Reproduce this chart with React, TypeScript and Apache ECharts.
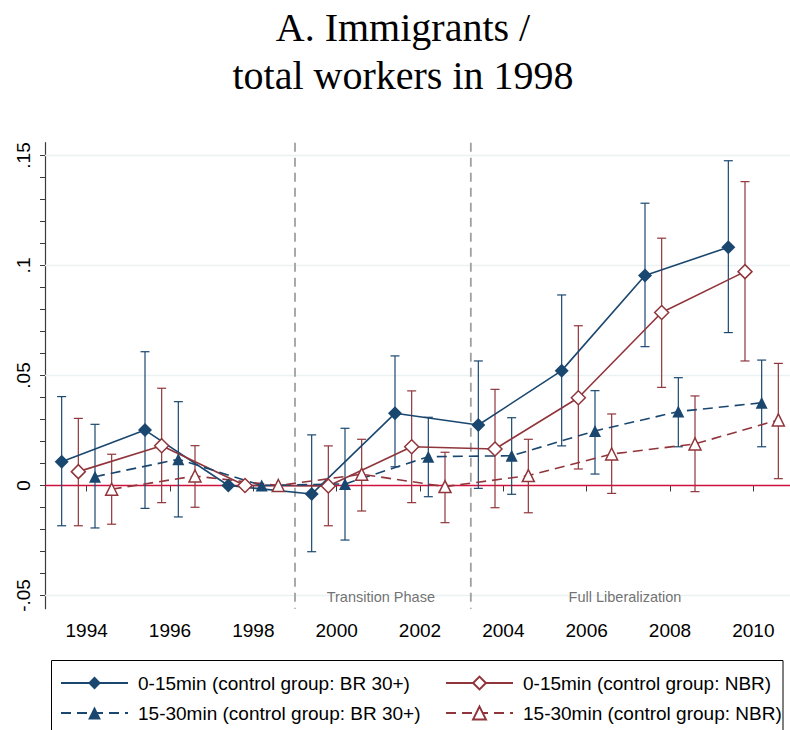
import React, { useEffect, useRef } from "react";
import * as echarts from "echarts";

// ---------- data ----------
const years = [1994, 1996, 1998, 2000, 2002, 2004, 2006, 2008, 2010];
const seriesNames = [
  "0-15min (control group: BR 30+)",
  "0-15min (control group: NBR)",
  "15-30min (control group: BR 30+)",
  "15-30min (control group: NBR)",
];
const xOffsets = [-0.6, -0.2, 0.2, 0.6];

const near_BR_coef = [0.0108, 0.0252, 0, -0.0039, 0.0328, 0.0275, 0.0522, 0.0954, 0.1083];
const near_BR_lo = [-0.0183, -0.0104, null, -0.0301, 0.0085, -0.0013, 0.018, 0.0631, 0.0695];
const near_BR_hi = [0.0404, 0.0608, null, 0.023, 0.0589, 0.0566, 0.0866, 0.1283, 0.1476];

const near_NBR_coef = [0.0063, 0.0181, 0, -0.0002, 0.0176, 0.0166, 0.0399, 0.0786, 0.0972];
const near_NBR_lo = [-0.0183, -0.0078, null, -0.0183, -0.0078, -0.0101, 0.0075, 0.0446, 0.0566];
const near_NBR_hi = [0.0305, 0.0442, null, 0.018, 0.043, 0.0437, 0.0726, 0.1124, 0.1381];

const mid_BR_coef = [0.004, 0.0119, 0, 0.0007, 0.0131, 0.0135, 0.0248, 0.0336, 0.0376];
const mid_BR_lo = [-0.0193, -0.0143, null, -0.0248, -0.0051, -0.004, 0.0052, 0.0176, 0.0176];
const mid_BR_hi = [0.0278, 0.0381, null, 0.026, 0.031, 0.0308, 0.0431, 0.049, 0.057];

const mid_NBR_coef = [-0.0017, 0.0043, 0, 0.0051, -0.0005, 0.0045, 0.0143, 0.0189, 0.0298];
const mid_NBR_lo = [-0.0176, -0.0099, null, -0.0116, -0.0169, -0.0124, -0.0036, -0.0028, 0.0031];
const mid_NBR_hi = [0.0142, 0.0181, null, 0.021, 0.0151, 0.021, 0.0325, 0.0407, 0.0555];

const yLabelTicks = [-0.05, 0, 0.05, 0.1, 0.15];
const yMinorTicks = [
  -0.05, -0.04, -0.03, -0.02, -0.01, 0, 0.01, 0.02, 0.03, 0.04, 0.05, 0.06, 0.07,
  0.08, 0.09, 0.1, 0.11, 0.12, 0.13, 0.14, 0.15,
];
const yGridValues = [-0.05, 0.05, 0.1, 0.15];
const phaseBounds = [1999, 2003.22];
const phaseLabels = ["Transition Phase", "Full Liberalization"];
const phaseLabelX = [2001.06, 2006.92];
const phaseLabelY = -0.0505;

const xMin = 1993;
const xMax = 2010.88;
const yMin = -0.056;
const yMax = 0.1558;

const titleLines = ["A. Immigrants /", "total workers in 1998"];

// ---------- styles ----------
const NAVY = "#1a476f";
const MAROON = "#90353b";
const CRANBERRY = "#ce123e";
const GRID = "#eaf2f3";
const SANS = "'Liberation Sans', Arial, Helvetica, sans-serif";

const seriesDefs = [
  { coef: near_BR_coef, lo: near_BR_lo, hi: near_BR_hi, color: NAVY, hollow: false, symbol: "diamond", size: 14, dashed: false },
  { coef: near_NBR_coef, lo: near_NBR_lo, hi: near_NBR_hi, color: MAROON, hollow: true, symbol: "diamond", size: 14, dashed: false },
  { coef: mid_BR_coef, lo: mid_BR_lo, hi: mid_BR_hi, color: NAVY, hollow: false, symbol: "triangle", size: 12, dashed: true },
  { coef: mid_NBR_coef, lo: mid_NBR_lo, hi: mid_NBR_hi, color: MAROON, hollow: true, symbol: "triangle", size: 12, dashed: true },
];

function fmtY(v: number) {
  if (Math.abs(v) < 1e-9) return "0";
  return String(+v.toFixed(2)).replace("0.", ".");
}

export default function App() {
  const ref = useRef<HTMLDivElement>(null);

  useEffect(() => {
    if (!ref.current) return;
    const chart = echarts.init(ref.current, null, { renderer: "svg" });

    const series: any[] = [];

    // horizontal grid lines
    series.push({
      type: "custom",
      z: 1,
      silent: true,
      data: yGridValues.map((v) => [xMin, v]),
      renderItem: (params: any, api: any) => {
        const cs = params.coordSys;
        const p = api.coord([xMin, api.value(1)]);
        return {
          type: "line",
          shape: { x1: cs.x, y1: p[1], x2: cs.x + cs.width, y2: p[1] },
          style: { stroke: GRID, lineWidth: 1.5 },
        };
      },
    });

    // phase boundaries
    series.push({
      type: "custom",
      z: 2,
      silent: true,
      data: phaseBounds.map((v) => [v, yMin]),
      renderItem: (params: any, api: any) => {
        const cs = params.coordSys;
        const p = api.coord([api.value(0), yMin]);
        return {
          type: "line",
          shape: { x1: p[0], y1: cs.y, x2: p[0], y2: cs.y + cs.height },
          style: { stroke: "#a0a0a0", lineWidth: 1.8, lineDash: [9, 6] },
        };
      },
    });

    // zero line
    series.push({
      type: "custom",
      z: 2,
      silent: true,
      data: [[xMin, 0]],
      renderItem: (params: any, api: any) => {
        const cs = params.coordSys;
        const p = api.coord([xMin, api.value(1)]);
        return {
          type: "line",
          shape: { x1: cs.x, y1: p[1], x2: cs.x + cs.width, y2: p[1] },
          style: { stroke: CRANBERRY, lineWidth: 1.5 },
        };
      },
    });

    // phase labels
    series.push({
      type: "scatter",
      z: 3,
      silent: true,
      symbolSize: 0,
      data: phaseLabels.map((t, i) => ({ name: t, value: [phaseLabelX[i], phaseLabelY] })),
      label: {
        show: true,
        position: "inside",
        formatter: (p: any) => p.name,
        color: "#4d4d4d",
        fontFamily: SANS,
        fontSize: 14.5,
      },
    });

    // error bars
    seriesDefs.forEach((d, i) => {
      const data: any[] = [];
      years.forEach((y, j) => {
        if (d.lo[j] != null && d.hi[j] != null) data.push([y + xOffsets[i], d.lo[j], d.hi[j]]);
      });
      series.push({
        type: "custom",
        z: 4,
        silent: true,
        encode: { x: 0, y: [1, 2] },
        data,
        renderItem: (params: any, api: any) => {
          const x = api.value(0);
          const top = api.coord([x, api.value(2)]);
          const bot = api.coord([x, api.value(1)]);
          const cap = 4.5;
          const st = { stroke: d.color, lineWidth: 1.2 };
          return {
            type: "group",
            children: [
              { type: "line", shape: { x1: top[0], y1: top[1], x2: bot[0], y2: bot[1] }, style: st },
              { type: "line", shape: { x1: top[0] - cap, y1: top[1], x2: top[0] + cap, y2: top[1] }, style: st },
              { type: "line", shape: { x1: bot[0] - cap, y1: bot[1], x2: bot[0] + cap, y2: bot[1] }, style: st },
            ],
          };
        },
      });
    });

    // lines with markers
    seriesDefs.forEach((d, i) => {
      series.push({
        type: "line",
        name: seriesNames[i],
        z: 5,
        data: years.map((y, j) => [y + xOffsets[i], d.coef[j]]),
        symbol: d.symbol,
        symbolSize: d.size,
        showAllSymbol: true,
        lineStyle: { color: d.color, width: 1.6, type: d.dashed ? [10, 6] : "solid" },
        itemStyle: d.hollow
          ? { color: "#ffffff", borderColor: d.color, borderWidth: 1.5 }
          : { color: d.color, borderWidth: 0 },
        emphasis: { disabled: true },
      });
    });

    const legendCommon = {
      orient: "vertical",
      top: 673,
      itemWidth: 67,
      itemHeight: 16,
      itemGap: 10,
      padding: 0,
      selectedMode: false,
      textStyle: { fontFamily: SANS, fontSize: 19, color: "#000", lineHeight: 20, padding: [0, 0, 0, 5] },
    };

    const option: any = {
      animation: false,
      backgroundColor: "#ffffff",
      textStyle: { fontFamily: SANS },
      title: {
        text: titleLines.join("\n"),
        left: 403,
        top: 3,
        padding: 0,
        textAlign: "center",
        textStyle: {
          fontFamily: "'Liberation Serif', 'Times New Roman', serif",
          fontSize: 40,
          fontWeight: "normal",
          lineHeight: 48,
          color: "#000",
        },
      },
      grid: { left: 45, right: 0, top: 142.7, bottom: 121.3, containLabel: false },
      xAxis: {
        type: "value",
        min: xMin,
        max: xMax,
        axisLine: { show: true, lineStyle: { color: "#3a3a3a", width: 1.2 } },
        axisTick: { show: true, length: 6, customValues: years, lineStyle: { color: "#3a3a3a" } },
        axisLabel: {
          customValues: years,
          color: "#000",
          fontSize: 19,
          fontFamily: SANS,
          margin: 12,
          formatter: (v: number) => String(Math.round(v)),
        },
        splitLine: { show: false },
      },
      yAxis: {
        type: "value",
        min: yMin,
        max: yMax,
        axisLine: { show: true, lineStyle: { color: "#3a3a3a", width: 1.2 } },
        axisTick: { show: true, length: 5, customValues: yMinorTicks, lineStyle: { color: "#3a3a3a" } },
        axisLabel: {
          customValues: yLabelTicks,
          rotate: 90,
          color: "#000",
          fontSize: 19,
          fontFamily: SANS,
          margin: 12,
          formatter: (v: number) => fmtY(v),
        },
        splitLine: { show: false },
      },
      legend: [
        { ...legendCommon, left: 60, data: [seriesNames[0], seriesNames[2]] },
        { ...legendCommon, left: 445, data: [seriesNames[1], seriesNames[3]] },
      ],
      graphic: [
        {
          type: "rect",
          silent: true,
          shape: { x: 51.5, y: 660.5, width: 731.5, height: 100 },
          style: { fill: "none", stroke: "#000", lineWidth: 1 },
        },
      ],
      series,
    };

    chart.setOption(option);
    return () => chart.dispose();
  }, []);

  return (
    <div
      ref={ref}
      style={{ position: "absolute", left: 0, top: 0, width: 790, height: 730, background: "#fff" }}
    />
  );
}
